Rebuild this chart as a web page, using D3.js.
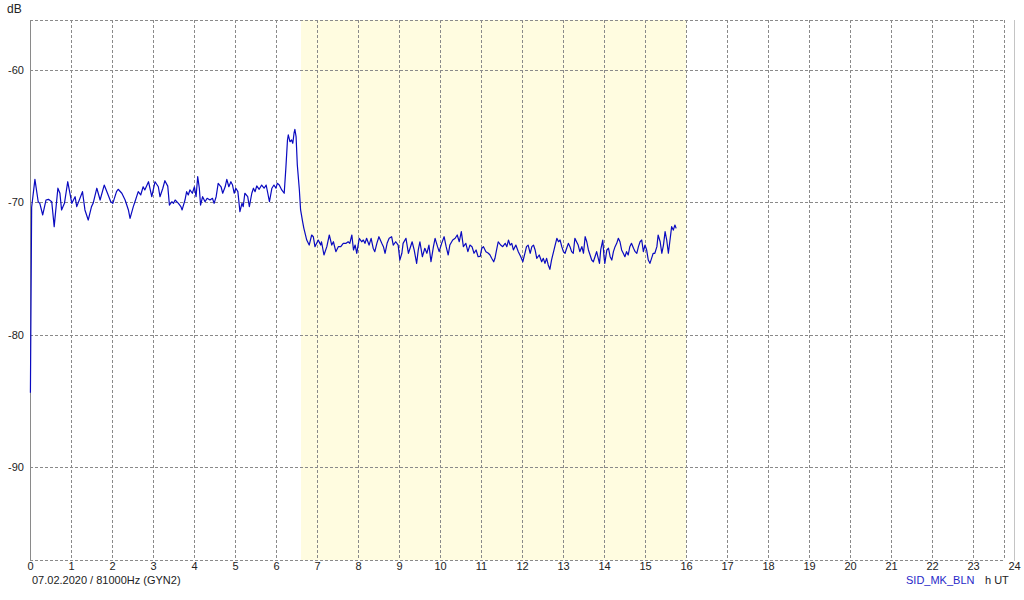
<!DOCTYPE html>
<html><head><meta charset="utf-8">
<script src="https://cdn.jsdelivr.net/npm/d3@7"></script>
<style>
body{margin:0;background:#fff}
svg{display:block}
text{font-family:"Liberation Sans",Arial,sans-serif;font-size:11px}
</style>
</head><body>
<svg id="c" width="1024" height="600"></svg>
<script>
// ---- data ----
const hours = [0.01,0.04,0.12,0.20,0.24,0.31,0.39,0.45,0.53,0.59,0.68,0.73,0.77,0.84,0.92,1.02,1.10,1.14,1.28,1.34,1.42,1.50,1.54,1.63,1.71,1.81,1.89,1.97,2.02,2.11,2.15,2.24,2.32,2.40,2.44,2.52,2.56,2.64,2.70,2.76,2.80,2.89,2.97,3.05,3.13,3.17,3.24,3.29,3.36,3.40,3.46,3.50,3.54,3.62,3.68,3.71,3.78,3.82,3.86,3.90,3.96,4.01,4.05,4.09,4.13,4.16,4.21,4.27,4.32,4.39,4.45,4.49,4.54,4.59,4.66,4.70,4.76,4.80,4.85,4.90,4.94,4.98,5.02,5.07,5.12,5.17,5.20,5.24,5.31,5.35,5.41,5.45,5.49,5.53,5.59,5.65,5.71,5.76,5.80,5.84,5.90,5.95,6.00,6.03,6.08,6.14,6.20,6.24,6.28,6.30,6.34,6.38,6.41,6.44,6.46,6.49,6.52,6.57,6.60,6.65,6.68,6.75,6.81,6.87,6.91,6.95,7.03,7.09,7.11,7.17,7.24,7.30,7.36,7.40,7.46,7.52,7.58,7.64,7.71,7.76,7.80,7.85,7.89,7.93,7.97,8.03,8.09,8.13,8.17,8.21,8.27,8.32,8.37,8.41,8.46,8.51,8.58,8.62,8.66,8.71,8.76,8.82,8.86,8.92,8.98,9.02,9.07,9.10,9.17,9.23,9.27,9.32,9.37,9.43,9.47,9.51,9.57,9.63,9.68,9.73,9.78,9.84,9.88,9.94,9.98,10.04,10.10,10.15,10.20,10.24,10.31,10.37,10.42,10.47,10.52,10.57,10.63,10.68,10.73,10.78,10.83,10.88,10.93,10.98,11.02,11.06,11.12,11.18,11.22,11.26,11.31,11.34,11.38,11.42,11.48,11.53,11.59,11.63,11.67,11.71,11.75,11.79,11.85,11.91,11.97,12.02,12.07,12.11,12.15,12.20,12.24,12.28,12.32,12.36,12.42,12.48,12.52,12.56,12.60,12.64,12.68,12.72,12.76,12.80,12.85,12.89,12.93,12.97,13.01,13.05,13.09,13.13,13.17,13.21,13.25,13.29,13.33,13.37,13.41,13.46,13.50,13.54,13.58,13.62,13.66,13.70,13.74,13.78,13.82,13.86,13.89,13.92,13.97,14.00,14.02,14.07,14.11,14.15,14.19,14.23,14.27,14.31,14.35,14.39,14.43,14.47,14.51,14.55,14.59,14.63,14.67,14.72,14.76,14.80,14.84,14.88,14.92,14.96,15.00,15.04,15.08,15.12,15.16,15.20,15.24,15.29,15.32,15.37,15.41,15.45,15.49,15.53,15.57,15.61,15.65,15.69,15.73,15.76];
const dbValues = [-84.4,-70.4,-68.29,-69.98,-70.10,-70.98,-69.85,-69.80,-69.98,-71.86,-68.96,-69.34,-70.60,-70.10,-68.47,-70.10,-69.60,-70.35,-69.22,-70.60,-71.36,-70.35,-70.10,-68.96,-69.85,-68.72,-69.34,-69.98,-70.10,-69.22,-69.04,-69.34,-69.85,-70.60,-71.23,-70.35,-69.98,-69.22,-69.47,-68.85,-69.09,-68.47,-69.60,-68.47,-68.85,-69.60,-68.96,-68.39,-68.8,-70.23,-69.98,-70.10,-69.85,-70.10,-70.35,-70.60,-69.85,-69.22,-69.47,-69.09,-69.34,-68.85,-69.60,-68.09,-68.96,-70.23,-69.60,-69.98,-69.72,-69.85,-69.72,-70.10,-69.60,-68.59,-68.85,-69.34,-68.85,-68.29,-68.85,-68.47,-68.72,-69.34,-68.96,-69.22,-70.73,-70.10,-70.35,-69.34,-69.60,-70.35,-69.34,-68.96,-69.22,-68.79,-69.04,-68.72,-68.96,-68.72,-69.34,-69.98,-68.96,-68.72,-68.96,-68.59,-68.72,-69.09,-69.34,-67.46,-65.32,-64.94,-65.45,-65.32,-65.57,-64.81,-64.51,-65.07,-67.21,-69.09,-70.6,-71.5,-71.99,-72.87,-73.25,-72.49,-72.62,-73.37,-72.87,-73.25,-73.0,-74.00,-73.37,-72.49,-73.25,-73.0,-73.75,-73.37,-73.37,-73.12,-73.12,-73.0,-73.12,-72.49,-73.62,-73.25,-73.87,-72.74,-73.0,-72.87,-73.12,-72.74,-73.25,-72.74,-73.49,-73.75,-73.12,-72.62,-73.12,-73.37,-73.87,-73.12,-72.74,-72.62,-73.25,-73.00,-73.25,-74.38,-73.87,-73.12,-72.74,-73.87,-73.49,-73.0,-73.62,-74.63,-73.62,-73.0,-74.13,-73.49,-73.87,-73.25,-74.51,-73.37,-72.74,-73.37,-73.75,-73.12,-72.62,-73.37,-74.0,-73.25,-72.87,-72.74,-72.49,-73.0,-72.24,-73.37,-73.12,-73.75,-73.25,-73.37,-73.87,-73.62,-74.13,-74.1,-73.49,-73.37,-73.75,-73.87,-74.0,-74.25,-74.51,-74.25,-73.62,-73.0,-73.25,-73.37,-73.12,-73.37,-72.87,-73.25,-73.12,-73.62,-73.25,-73.75,-74.13,-74.51,-73.87,-73.37,-73.25,-73.87,-73.37,-73.25,-73.62,-74.25,-74.0,-74.51,-74.25,-74.63,-74.25,-74.75,-75.08,-74.38,-73.87,-73.37,-72.74,-73.0,-72.87,-73.37,-73.75,-73.87,-73.49,-73.12,-73.37,-73.75,-73.87,-72.74,-73.0,-73.25,-73.75,-73.37,-73.87,-72.62,-73.0,-73.62,-74.0,-74.38,-74.51,-74.13,-73.75,-74.25,-74.63,-73.62,-72.87,-74.13,-74.63,-73.62,-73.49,-74.13,-74.38,-73.75,-73.37,-73.12,-72.74,-73.0,-73.62,-73.87,-74.13,-73.75,-74.0,-73.37,-73.12,-73.49,-73.75,-73.87,-73.37,-73.0,-72.87,-73.75,-73.25,-73.62,-74.38,-74.63,-74.25,-73.87,-73.87,-73.37,-72.49,-73.0,-73.87,-73.25,-72.24,-72.87,-73.87,-72.87,-71.86,-72.12,-71.74,-71.99];
const xTicks = [0,1,2,3,4,5,6,7,8,9,10,11,12,13,14,15,16,17,18,19,20,21,22,23,24];
const yTicks = [-60,-70,-80,-90];
const daylight = [6.61, 16.0];
const yUnit = "dB";
const xUnit = "h UT";
const caption = "07.02.2020 / 81000Hz (GYN2)";
const station = "SID_MK_BLN";

// ---- chart ----
(function(){
const svg = d3.select("#c");
const x = d3.scaleLinear().domain([0,24]).range([30,1014]);
const y = d3.scaleLinear().domain([-60,-90]).range([69.5,467]);
const plotTop = 20, plotBottom = 560, left = x(0), frameRight = x(24) - 10;
const gridCol = "#8a8a8a";

svg.append("rect").attr("x",x(daylight[0])).attr("y",plotTop)
  .attr("width",x(daylight[1])-x(daylight[0])).attr("height",plotBottom-plotTop)
  .attr("fill","#fffce0");

const grid = svg.append("g").attr("stroke",gridCol).attr("stroke-width",1)
  .attr("stroke-dasharray","3,2").attr("shape-rendering","crispEdges");
grid.selectAll("line.h").data(yTicks).join("line").attr("class","h")
  .attr("x1",left).attr("x2",frameRight)
  .attr("y1",d=>Math.round(y(d))+0.5).attr("y2",d=>Math.round(y(d))+0.5);
[plotTop,plotBottom].forEach(v=>grid.append("line").attr("x1",left).attr("x2",frameRight)
  .attr("y1",v+0.5).attr("y2",v+0.5));
grid.selectAll("line.v").data(xTicks.filter(d=>d>0&&d<24)).join("line").attr("class","v")
  .attr("y1",plotTop).attr("y2",plotBottom)
  .attr("x1",d=>Math.round(x(d))+0.5).attr("x2",d=>Math.round(x(d))+0.5);
grid.append("line").attr("x1",frameRight+0.5).attr("x2",frameRight+0.5).attr("y1",plotTop).attr("y2",plotBottom);

svg.append("line").attr("x1",left+0.5).attr("x2",left+0.5).attr("y1",plotTop).attr("y2",plotBottom+1)
  .attr("stroke","#8a8a8a").attr("shape-rendering","crispEdges");
svg.append("line").attr("x1",x(24)+0.5).attr("x2",x(24)+0.5).attr("y1",plotTop).attr("y2",plotBottom+1)
  .attr("stroke","#c4c4c4").attr("shape-rendering","crispEdges");

const pts = hours.map((h,i)=>[h,dbValues[i]]);
svg.append("path").datum(pts)
  .attr("d", d3.line().x(d=>x(d[0])).y(d=>y(d[1])))
  .attr("fill","none").attr("stroke","#0a0ac0").attr("stroke-width",1.2)
  .attr("stroke-linejoin","round");

const xAxis = svg.append("g").attr("transform",`translate(0,${plotBottom})`)
  .call(d3.axisBottom(x).tickValues(xTicks).tickSize(0).tickPadding(2).tickFormat(d=>String(d)));
xAxis.select(".domain").remove();
xAxis.selectAll("text").attr("fill","#222").style("font-size","11px")
  .style("font-family",'"Liberation Sans",Arial,sans-serif');

const yAxis = svg.append("g").attr("transform",`translate(${left-5},0)`)
  .call(d3.axisLeft(y).tickValues(yTicks).tickSize(0).tickPadding(1).tickFormat(d=>String(d)));
yAxis.select(".domain").remove();
yAxis.selectAll("text").attr("fill","#222").style("font-size","11px")
  .style("font-family",'"Liberation Sans",Arial,sans-serif');

svg.append("text").attr("x",7).attr("y",13).attr("fill","#222").style("font-size","12px").text(yUnit);
svg.append("text").attr("x",32).attr("y",584).attr("fill","#222").text(caption);
svg.append("text").attr("x",906).attr("y",584).attr("fill","#2828c8").text(station);
svg.append("text").attr("x",985).attr("y",584).attr("fill","#222").text(xUnit);
})();
</script>
</body></html>
